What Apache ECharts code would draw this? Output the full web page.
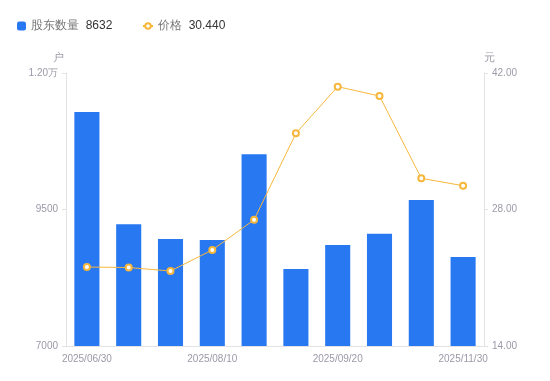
<!DOCTYPE html>
<html><head><meta charset="utf-8">
<script src="https://cdn.jsdelivr.net/npm/echarts@6/dist/echarts.min.js"></script>
<style>html,body{margin:0;padding:0;background:#fff}#c{width:550px;height:381px}</style>
</head><body><div id="c"></div>
<script>
var categories = ['2025/06/30','2025/07/10','2025/07/20','2025/08/10','2025/08/20','2025/08/31','2025/09/20','2025/09/30','2025/10/31','2025/11/30'];
var holders = [11286, 9229, 8960, 8941, 10511, 8410, 8850, 9057, 9674, 8632];
var prices = [22.10, 22.05, 21.69, 23.85, 26.95, 35.81, 40.60, 39.64, 31.20, 30.44];
var holderName = '股东数量';
var priceName = '价格';

var chart = echarts.init(document.getElementById('c'));
var lastVals = {};
lastVals[holderName] = String(holders[holders.length-1]);
lastVals[priceName] = prices[prices.length-1].toFixed(3);
var axisLabelColor = '#9a9aa8';
var legendText = { rich: { n: { color: '#777', fontSize: 12 }, v: { color: '#333', fontSize: 12 } } };
function legendFmt(n){ return '{n|' + n + '}  {v|' + lastVals[n] + '}'; }
chart.setOption({
  animation: false,
  legend: [{
    left: 12, top: 15, itemWidth: 9, itemHeight: 9,
    selectedMode: false, formatter: legendFmt, textStyle: legendText,
    data: [{ name: holderName, icon: 'roundRect' }]
  }, {
    left: 137, top: 15, itemWidth: 10, itemHeight: 7,
    selectedMode: false, formatter: legendFmt, textStyle: legendText,
    data: [{ name: priceName }]
  }],
  grid: { left: 66, right: 66, top: 73, bottom: 35 },
  xAxis: {
    type: 'category', data: categories,
    axisLine: { lineStyle: { color: '#e3e3e6' } },
    axisTick: { show: false },
    axisLabel: { interval: 2, color: axisLabelColor, fontSize: 10, margin: 8 }
  },
  yAxis: [{
    type: 'value', name: '户', min: 7000, max: 12000, interval: 2500,
    nameTextStyle: { color: axisLabelColor, fontSize: 11, padding: [0, 16, 0, 0] },
    nameGap: 10,
    axisLine: { show: true, lineStyle: { color: '#e3e3e6' } },
    axisTick: { show: true, length: 4, lineStyle: { color: '#e3e3e6' } },
    splitLine: { show: false },
    axisLabel: { color: axisLabelColor, fontSize: 10, margin: 8,
      formatter: function(v){ return v >= 10000 ? (v/10000).toFixed(2) + '万' : String(v); } }
  }, {
    type: 'value', name: '元', min: 14, max: 42, interval: 14,
    nameTextStyle: { color: axisLabelColor, fontSize: 11, padding: [0, 0, 0, 10] },
    nameGap: 10,
    axisLine: { show: true, lineStyle: { color: '#e3e3e6' } },
    axisTick: { show: true, length: 4, lineStyle: { color: '#e3e3e6' } },
    splitLine: { show: false },
    axisLabel: { color: axisLabelColor, fontSize: 10, margin: 8,
      formatter: function(v){ return v.toFixed(2); } }
  }],
  series: [{
    name: holderName, type: 'bar', data: holders, barWidth: '60%',
    itemStyle: { color: '#2878f2' }
  }, {
    name: priceName, type: 'line', yAxisIndex: 1, data: prices,
    symbol: 'emptyCircle', symbolSize: 6,
    lineStyle: { color: '#f6b73c', width: 1 },
    itemStyle: { color: '#f6b73c', borderWidth: 2 }
  }]
});
</script></body></html>
